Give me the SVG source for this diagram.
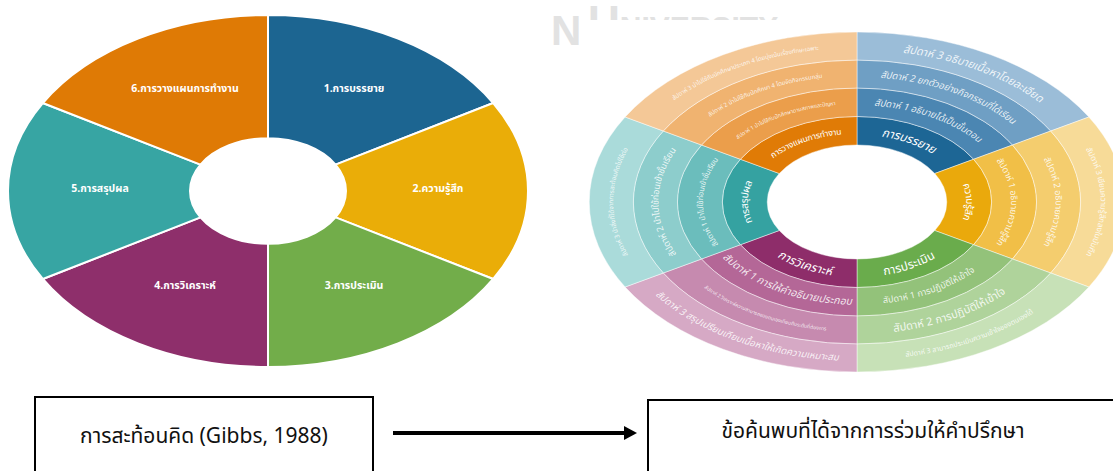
<svg xmlns="http://www.w3.org/2000/svg" width="1113" height="471" viewBox="0 0 1113 471">
<style>
.seg{stroke:#fff;stroke-width:2}
.lbl{font-family:"Noto Sans Thai","Noto Sans","DejaVu Sans",sans-serif;font-weight:bold;font-size:10.5px;fill:#fff;text-anchor:middle;dominant-baseline:central}
.ring{stroke:#fff;stroke-opacity:0.45;stroke-width:1}
.rt{font-family:"Noto Sans Thai","Noto Sans","DejaVu Sans",sans-serif;fill:#fff;text-anchor:middle;dominant-baseline:central}
.wk{fill-opacity:0.85}
.box{fill:#fff;stroke:#000;stroke-width:2}
.bt{font-family:"Noto Sans Thai","Noto Sans","DejaVu Sans",sans-serif;font-size:21px;fill:#111;text-anchor:middle;dominant-baseline:central}
.wm{font-family:"Liberation Sans Narrow","Liberation Sans",sans-serif;font-weight:bold;fill:#e2e2e2}
</style>
<defs>
<clipPath id="wmclip"><rect x="580" y="0" width="220" height="20"/></clipPath>
<marker id="ah" markerWidth="14" markerHeight="16" refX="1" refY="8" orient="auto" markerUnits="userSpaceOnUse"><path d="M0,1 L13,8 L0,15 Z" fill="#000"/></marker>
<path id="b1" d="M857,130.75 A112.22,71.25 0 0 1 954.18,166.375"/>
<path id="b2" d="M857,102.25 A157.11,99.75 0 0 1 993.06,152.125"/>
<path id="b3" d="M857,74 A201.6,128 0 0 1 1031.59,138"/>
<path id="b4" d="M857,46 A245.7,156 0 0 1 1069.78,124"/>
<path id="y1" d="M954.18,166.375 A112.22,71.25 0 0 1 954.18,237.625"/>
<path id="y2" d="M993.06,152.125 A157.11,99.75 0 0 1 993.06,251.875"/>
<path id="y3" d="M1031.59,138 A201.6,128 0 0 1 1031.59,266"/>
<path id="y4" d="M1069.78,124 A245.7,156 0 0 1 1069.78,280"/>
<path id="g1" d="M857,273.25 A112.22,71.25 0 0 0 954.18,237.625"/>
<path id="g2" d="M857,301.75 A157.11,99.75 0 0 0 993.06,251.875"/>
<path id="g3" d="M857,330 A201.6,128 0 0 0 1031.59,266"/>
<path id="g4" d="M857,358 A245.7,156 0 0 0 1069.78,280"/>
<path id="p1" d="M759.82,237.625 A112.22,71.25 0 0 0 857,273.25"/>
<path id="p2" d="M720.94,251.875 A157.11,99.75 0 0 0 857,301.75"/>
<path id="p3" d="M682.41,266 A201.6,128 0 0 0 857,330"/>
<path id="p4" d="M644.22,280 A245.7,156 0 0 0 857,358"/>
<path id="t1" d="M759.82,237.625 A112.22,71.25 0 0 1 759.82,166.375"/>
<path id="t2" d="M720.94,251.875 A157.11,99.75 0 0 1 720.94,152.125"/>
<path id="t3" d="M682.41,266 A201.6,128 0 0 1 682.41,138"/>
<path id="t4" d="M644.22,280 A245.7,156 0 0 1 644.22,124"/>
<path id="o1" d="M759.82,166.375 A112.22,71.25 0 0 1 857,130.75"/>
<path id="o2" d="M720.94,152.125 A157.11,99.75 0 0 1 857,102.25"/>
<path id="o3" d="M682.41,138 A201.6,128 0 0 1 857,74"/>
<path id="o4" d="M644.22,124 A245.7,156 0 0 1 857,46"/>
</defs>

<g id="watermark">
<text class="wm" x="551" y="45" font-size="42">N</text>
<g clip-path="url(#wmclip)">
<text class="wm" x="588" y="37" font-size="44">U<tspan font-size="30">NIVERSITY</tspan></text>
</g>
</g>

<!-- Left donut: Gibbs cycle -->
<g id="gibbs-cycle">
<g id="g-describe"><path class="seg" fill="#1c6591" d="M268,15 A260,176 0 0 1 493.17,103 L335.55,164.6 A78,52.8 0 0 0 268,138.2 Z"/><text class="lbl" x="354" y="89">1.การบรรยาย</text></g>
<g id="g-feelings"><path class="seg" fill="#eaad08" d="M493.17,103 A260,176 0 0 1 493.17,279 L335.55,217.4 A78,52.8 0 0 0 335.55,164.6 Z"/><text class="lbl" x="438" y="189">2.ความรู้สึก</text></g>
<g id="g-evaluation"><path class="seg" fill="#72ad4a" d="M493.17,279 A260,176 0 0 1 268,367 L268,243.8 A78,52.8 0 0 0 335.55,217.4 Z"/><text class="lbl" x="354" y="286">3.การประเมิน</text></g>
<g id="g-analysis"><path class="seg" fill="#8e2f6b" d="M268,367 A260,176 0 0 1 42.83,279 L200.45,217.4 A78,52.8 0 0 0 268,243.8 Z"/><text class="lbl" x="185" y="286">4.การวิเคราะห์</text></g>
<g id="g-conclusion"><path class="seg" fill="#37a5a3" d="M42.83,279 A260,176 0 0 1 42.83,103 L200.45,164.6 A78,52.8 0 0 0 200.45,217.4 Z"/><text class="lbl" x="100" y="189">5.การสรุปผล</text></g>
<g id="g-action"><path class="seg" fill="#df7a05" d="M42.83,103 A260,176 0 0 1 268,15 L268,138.2 A78,52.8 0 0 0 200.45,164.6 Z"/><text class="lbl" x="185" y="89">6.การวางแผนการทำงาน</text></g>
</g>

<!-- Right donut: findings -->
<g id="findings-wheel">
<g id="r-describe">
<path class="ring" fill="#1d6695" d="M857,116.5 A134.66,85.5 0 0 1 973.62,159.25 L934.75,173.5 A89.78,57 0 0 0 857,145 Z"/>
<path class="ring" fill="#4b86b2" d="M857,88 A179.55,114 0 0 1 1012.49,145 L973.62,159.25 A134.66,85.5 0 0 0 857,116.5 Z"/>
<path class="ring" fill="#6f9fc4" d="M857,60 A223.65,142 0 0 1 1050.69,131 L1012.49,145 A179.55,114 0 0 0 857,88 Z"/>
<path class="ring" fill="#9bbdd8" d="M857,32 A267.75,170 0 0 1 1088.88,117 L1050.69,131 A223.65,142 0 0 0 857,60 Z"/>
<text class="rt" font-size="12" font-style="italic"><textPath href="#b1" startOffset="50%">การบรรยาย</textPath></text>
<text class="rt wk" font-size="9.5" font-style="italic"><textPath href="#b2" startOffset="50%">สัปดาห์ 1 อธิบายได้เป็นขั้นตอน</textPath></text>
<text class="rt wk" font-size="9.5" font-style="italic"><textPath href="#b3" startOffset="50%">สัปดาห์ 2 ยกตัวอย่างกิจกรรมที่ได้เรียน</textPath></text>
<text class="rt wk" font-size="11" font-style="italic"><textPath href="#b4" startOffset="52%">สัปดาห์ 3 อธิบายเนื้อหาโดยละเอียด</textPath></text>
</g>
<g id="r-feelings">
<path class="ring" fill="#eaa90c" d="M973.62,159.25 A134.66,85.5 0 0 1 973.62,244.75 L934.75,230.5 A89.78,57 0 0 0 934.75,173.5 Z"/>
<path class="ring" fill="#f1bf47" d="M1012.49,145 A179.55,114 0 0 1 1012.49,259 L973.62,244.75 A134.66,85.5 0 0 0 973.62,159.25 Z"/>
<path class="ring" fill="#f4cd6e" d="M1050.69,131 A223.65,142 0 0 1 1050.69,273 L1012.49,259 A179.55,114 0 0 0 1012.49,145 Z"/>
<path class="ring" fill="#f7db98" d="M1088.88,117 A267.75,170 0 0 1 1088.88,287 L1050.69,273 A223.65,142 0 0 0 1050.69,131 Z"/>
<text class="rt" font-size="10"><textPath href="#y1" startOffset="50%">ความรู้สึก</textPath></text>
<text class="rt wk" font-size="9"><textPath href="#y2" startOffset="50%">สัปดาห์ 1 อธิบายความรู้สึก</textPath></text>
<text class="rt wk" font-size="9"><textPath href="#y3" startOffset="50%">สัปดาห์ 2 อธิบายความรู้สึก</textPath></text>
<text class="rt wk" font-size="8"><textPath href="#y4" startOffset="50%">สัปดาห์ 3 เขียนความรู้สึกลงในบันทึก</textPath></text>
</g>
<g id="r-evaluation">
<path class="ring" fill="#6aac4c" d="M973.62,244.75 A134.66,85.5 0 0 1 857,287.5 L857,259 A89.78,57 0 0 0 934.75,230.5 Z"/>
<path class="ring" fill="#93c27a" d="M1012.49,259 A179.55,114 0 0 1 857,316 L857,287.5 A134.66,85.5 0 0 0 973.62,244.75 Z"/>
<path class="ring" fill="#afd39b" d="M1050.69,273 A223.65,142 0 0 1 857,344 L857,316 A179.55,114 0 0 0 1012.49,259 Z"/>
<path class="ring" fill="#c7e1b7" d="M1088.88,287 A267.75,170 0 0 1 857,372 L857,344 A223.65,142 0 0 0 1050.69,273 Z"/>
<text class="rt" font-size="12"><textPath href="#g1" startOffset="50%">การประเมิน</textPath></text>
<text class="rt wk" font-size="9"><textPath href="#g2" startOffset="50%">สัปดาห์ 1 การปฏิบัติให้เข้าใจ</textPath></text>
<text class="rt wk" font-size="11"><textPath href="#g3" startOffset="50%">สัปดาห์ 2 การปฏิบัติให้เข้าใจ</textPath></text>
<text class="rt wk" font-size="7"><textPath href="#g4" startOffset="50%">สัปดาห์ 3 สามารถประเมินความเข้าใจของตนเองได้</textPath></text>
</g>
<g id="r-analysis">
<path class="ring" fill="#8e2d6a" d="M857,287.5 A134.66,85.5 0 0 1 740.38,244.75 L779.25,230.5 A89.78,57 0 0 0 857,259 Z"/>
<path class="ring" fill="#b46797" d="M857,316 A179.55,114 0 0 1 701.51,259 L740.38,244.75 A134.66,85.5 0 0 0 857,287.5 Z"/>
<path class="ring" fill="#c68aaf" d="M857,344 A223.65,142 0 0 1 663.31,273 L701.51,259 A179.55,114 0 0 0 857,316 Z"/>
<path class="ring" fill="#d6a9c5" d="M857,372 A267.75,170 0 0 1 625.12,287 L663.31,273 A223.65,142 0 0 0 857,344 Z"/>
<text class="rt" font-size="12" font-style="italic"><textPath href="#p1" startOffset="50%">การวิเคราะห์</textPath></text>
<text class="rt wk" font-size="10.5" font-style="italic"><textPath href="#p2" startOffset="50%">สัปดาห์ 1 การให้คำอธิบายประกอบ</textPath></text>
<text class="rt wk" font-size="5"><textPath href="#p3" startOffset="50%">สัปดาห์ 2 วิเคราะห์ความสามารถของตนเองเทียบกับระดับที่ต้องการ</textPath></text>
<text class="rt wk" font-size="9.5" font-style="italic"><textPath href="#p4" startOffset="50%">สัปดาห์ 3 สรุปเปรียบเทียบเนื้อหาให้เกิดความเหมาะสม</textPath></text>
</g>
<g id="r-conclusion">
<path class="ring" fill="#35a2a1" d="M740.38,244.75 A134.66,85.5 0 0 1 740.38,159.25 L779.25,173.5 A89.78,57 0 0 0 779.25,230.5 Z"/>
<path class="ring" fill="#6bbdbc" d="M701.51,259 A179.55,114 0 0 1 701.51,145 L740.38,159.25 A134.66,85.5 0 0 0 740.38,244.75 Z"/>
<path class="ring" fill="#8dcdcc" d="M663.31,273 A223.65,142 0 0 1 663.31,131 L701.51,145 A179.55,114 0 0 0 701.51,259 Z"/>
<path class="ring" fill="#aadbda" d="M625.12,287 A267.75,170 0 0 1 625.12,117 L663.31,131 A223.65,142 0 0 0 663.31,273 Z"/>
<text class="rt" font-size="10"><textPath href="#t1" startOffset="50%">การสรุปผล</textPath></text>
<text class="rt wk" font-size="7.5"><textPath href="#t2" startOffset="50%">สัปดาห์ 1 นำไปใช้ก่อนเข้าชั้นเรียน</textPath></text>
<text class="rt wk" font-size="9"><textPath href="#t3" startOffset="50%">สัปดาห์ 2 นำไปใช้ก่อนเข้าชั้นเรียน</textPath></text>
<text class="rt wk" font-size="6.5"><textPath href="#t4" startOffset="50%">สัปดาห์ 3 นำสิ่งที่ได้จากการสะท้อนคิดไปใช้ต่อ</textPath></text>
</g>
<g id="r-action">
<path class="ring" fill="#e07b06" d="M740.38,159.25 A134.66,85.5 0 0 1 857,116.5 L857,145 A89.78,57 0 0 0 779.25,173.5 Z"/>
<path class="ring" fill="#eb9e4b" d="M701.51,145 A179.55,114 0 0 1 857,88 L857,116.5 A134.66,85.5 0 0 0 740.38,159.25 Z"/>
<path class="ring" fill="#f0b370" d="M663.31,131 A223.65,142 0 0 1 857,60 L857,88 A179.55,114 0 0 0 701.51,145 Z"/>
<path class="ring" fill="#f4c897" d="M625.12,117 A267.75,170 0 0 1 857,32 L857,60 A223.65,142 0 0 0 663.31,131 Z"/>
<text class="rt" font-size="8.5"><textPath href="#o1" startOffset="50%">การวางแผนการทำงาน</textPath></text>
<text class="rt wk" font-size="5.5"><textPath href="#o2" startOffset="50%">สัปดาห์ 1 นำไปใช้กับนักศึกษาตามสภาพและปัญหา</textPath></text>
<text class="rt wk" font-size="6"><textPath href="#o3" startOffset="50%">สัปดาห์ 2 นำไปใช้กับนักศึกษา 4 โดยจัดกิจกรรมกลุ่ม</textPath></text>
<text class="rt wk" font-size="6"><textPath href="#o4" startOffset="50%">สัปดาห์ 3 นำไปใช้กับนักศึกษาประเภท 4 โดยมุ่งเน้นเรื่องทักษะเฉพาะ</textPath></text>
</g>
</g>

<g id="box-gibbs">
<rect class="box" x="35" y="397" width="338" height="90"/>
<text class="bt" x="204" y="436">การสะท้อนคิด (Gibbs, 1988)</text>
</g>
<g id="box-findings">
<rect class="box" x="648" y="400" width="480" height="90"/>
<text class="bt" x="873" y="431">ข้อค้นพบที่ได้จากการร่วมให้คำปรึกษา</text>
</g>

<g id="connectors">
<line x1="393" y1="433" x2="625" y2="433" stroke="#000" stroke-width="4" marker-end="url(#ah)"/>
</g>
</svg>
